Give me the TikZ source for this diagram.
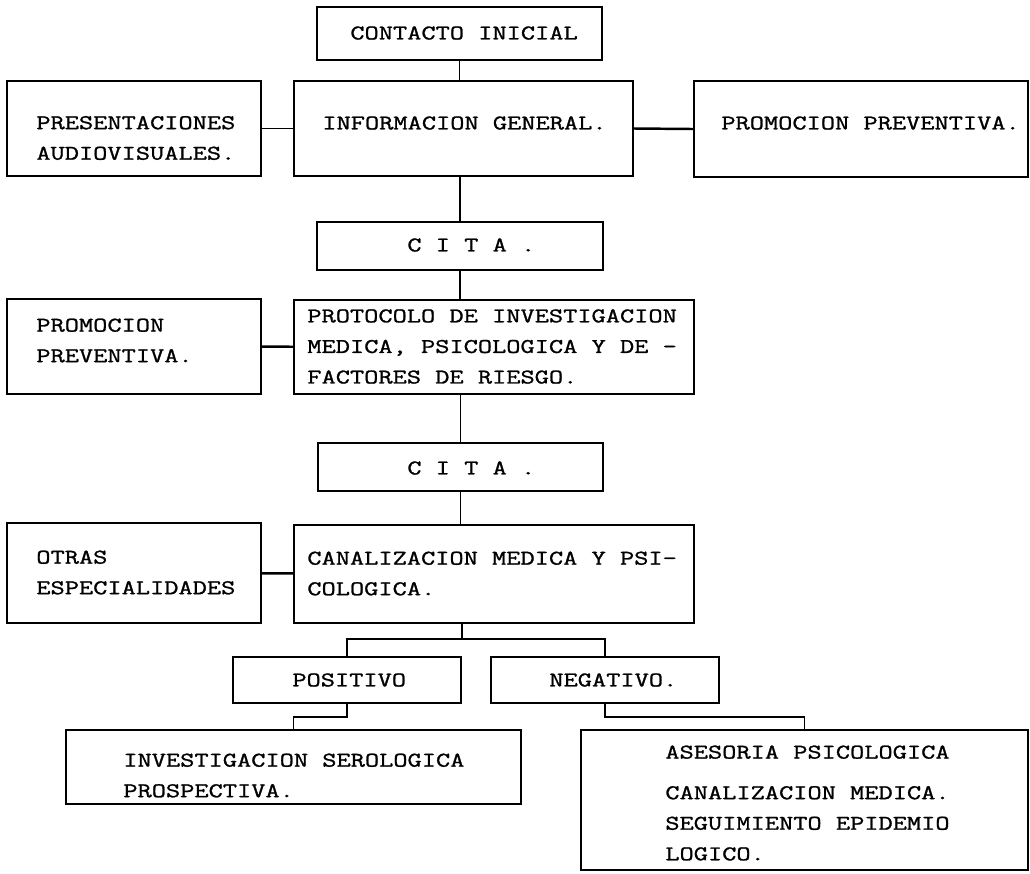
\documentclass[tikz,border=0pt]{standalone}
\usepackage{fontspec}
\newfontfamily\typewriter[FakeStretch=1.32,FakeBold=1.2]{Latin Modern Mono}

\newcommand*{\pagew}{1030}
\newcommand*{\pageh}{873}

\begin{document}
\begin{tikzpicture}
[
	x=0.02cm, y=-0.02cm,
	box/.style 2 args={draw,line width=1.3pt,inner sep=0pt,minimum width=#1*0.02cm,minimum height=#2*0.02cm},
	txt/.style={anchor=west,align=left,inner sep=0pt,font={\typewriter\fontsize{11.9pt}{17.4pt}\selectfont}},
	link/.style={line width=0.7pt},
	heavylink/.style={line width=1.4pt}
]

	\useasboundingbox (0,0) rectangle (\pagew,\pageh);

	% boxes
	\node[box={285}{53}] (contacto) at (459.5,33.5) {};
	\node[box={254}{95}] (presenta) at (134,128.5) {};
	\node[box={339}{95}] (info) at (463.5,128.5) {};
	\node[box={334}{96}] (promoder) at (861,129) {};
	\node[box={286}{48}] (cita1) at (460,246) {};
	\node[box={254}{95}] (promoizq) at (134,346.5) {};
	\node[box={400}{94}] (protocolo) at (494,347) {};
	\node[box={285}{48}] (cita2) at (460.5,467) {};
	\node[box={254}{100}] (otras) at (134,573) {};
	\node[box={400}{98}] (canal) at (494,574) {};
	\node[box={228}{46}] (positivo) at (347,680) {};
	\node[box={228}{46}] (negativo) at (605,680) {};
	\node[box={455}{74}] (serologia) at (293.5,767) {};
	\node[box={447}{140}] (asesoria) at (804.5,800) {};

	% texts
	\node[txt] (contacto-t) at (350,33) {CONTACTO INICIAL};
	\node[txt] (presenta-t) at (36,138) {PRESENTACIONES\\AUDIOVISUALES.};
	\node[txt] (info-t) at (322,123) {INFORMACION GENERAL.};
	\node[txt] (promoder-t) at (721,123) {PROMOCION PREVENTIVA.};
	\node[txt] (cita1-t) at (407,245) {C I T A .};
	\node[txt] (promoizq-t) at (36,340.5) {PROMOCION\\PREVENTIVA.};
	\node[txt] (protocolo-t) at (307,346.5) {PROTOCOLO DE INVESTIGACION\\MEDICA, PSICOLOGICA Y DE -\\FACTORES DE RIESGO.};
	\node[txt] (cita2-t) at (407,468) {C I T A .};
	\node[txt] (otras-t) at (36,572.5) {OTRAS\\ESPECIALIDADES};
	\node[txt] (canal-t) at (307,573.5) {CANALIZACION MEDICA Y PSI-\\COLOGICA.};
	\node[txt] (positivo-t) at (292,680) {POSITIVO};
	\node[txt] (negativo-t) at (549,680) {NEGATIVO.};
	\node[txt] (serologia-t) at (123,775.5) {INVESTIGACION SEROLOGICA\\PROSPECTIVA.};
	\node[txt] (asesoria-t) at (665,803) {ASESORIA PSICOLOGICA\\[5.7pt]CANALIZACION MEDICA.\\SEGUIMIENTO EPIDEMIO\\LOGICO.};

	% main line
	\draw[link] (contacto.south) -- (contacto.south |- info.north);
	\draw[link] (cita1.north) -- (cita1.north |- info.south);
	\draw[link] (cita1.south) -- (cita1.south |- protocolo.north);
	\draw[link] (cita2.north) -- (cita2.north |- protocolo.south);
	\draw[link] (cita2.south) -- (cita2.south |- canal.north);

	% side boxes
	\draw[link] (presenta) -- (info);
	\draw[heavylink] (info.east) -- (promoder.west);
	\draw[heavylink] (promoizq) -- (protocolo);
	\draw[heavylink] (otras) -- (canal);

	% results
	\coordinate (fork) at (462,639);
	\coordinate (lower) at (0,717);
	\draw[link] (fork |- canal.south) -- (fork);
	\draw[link] (positivo.north) |- (fork) -| (negativo.north);
	\draw[link] (positivo.south) |- (lower -| serologia.north) -- (serologia.north);
	\draw[link] (negativo.south) |- (lower -| asesoria.north) -- (asesoria.north);

\end{tikzpicture}
\end{document}
